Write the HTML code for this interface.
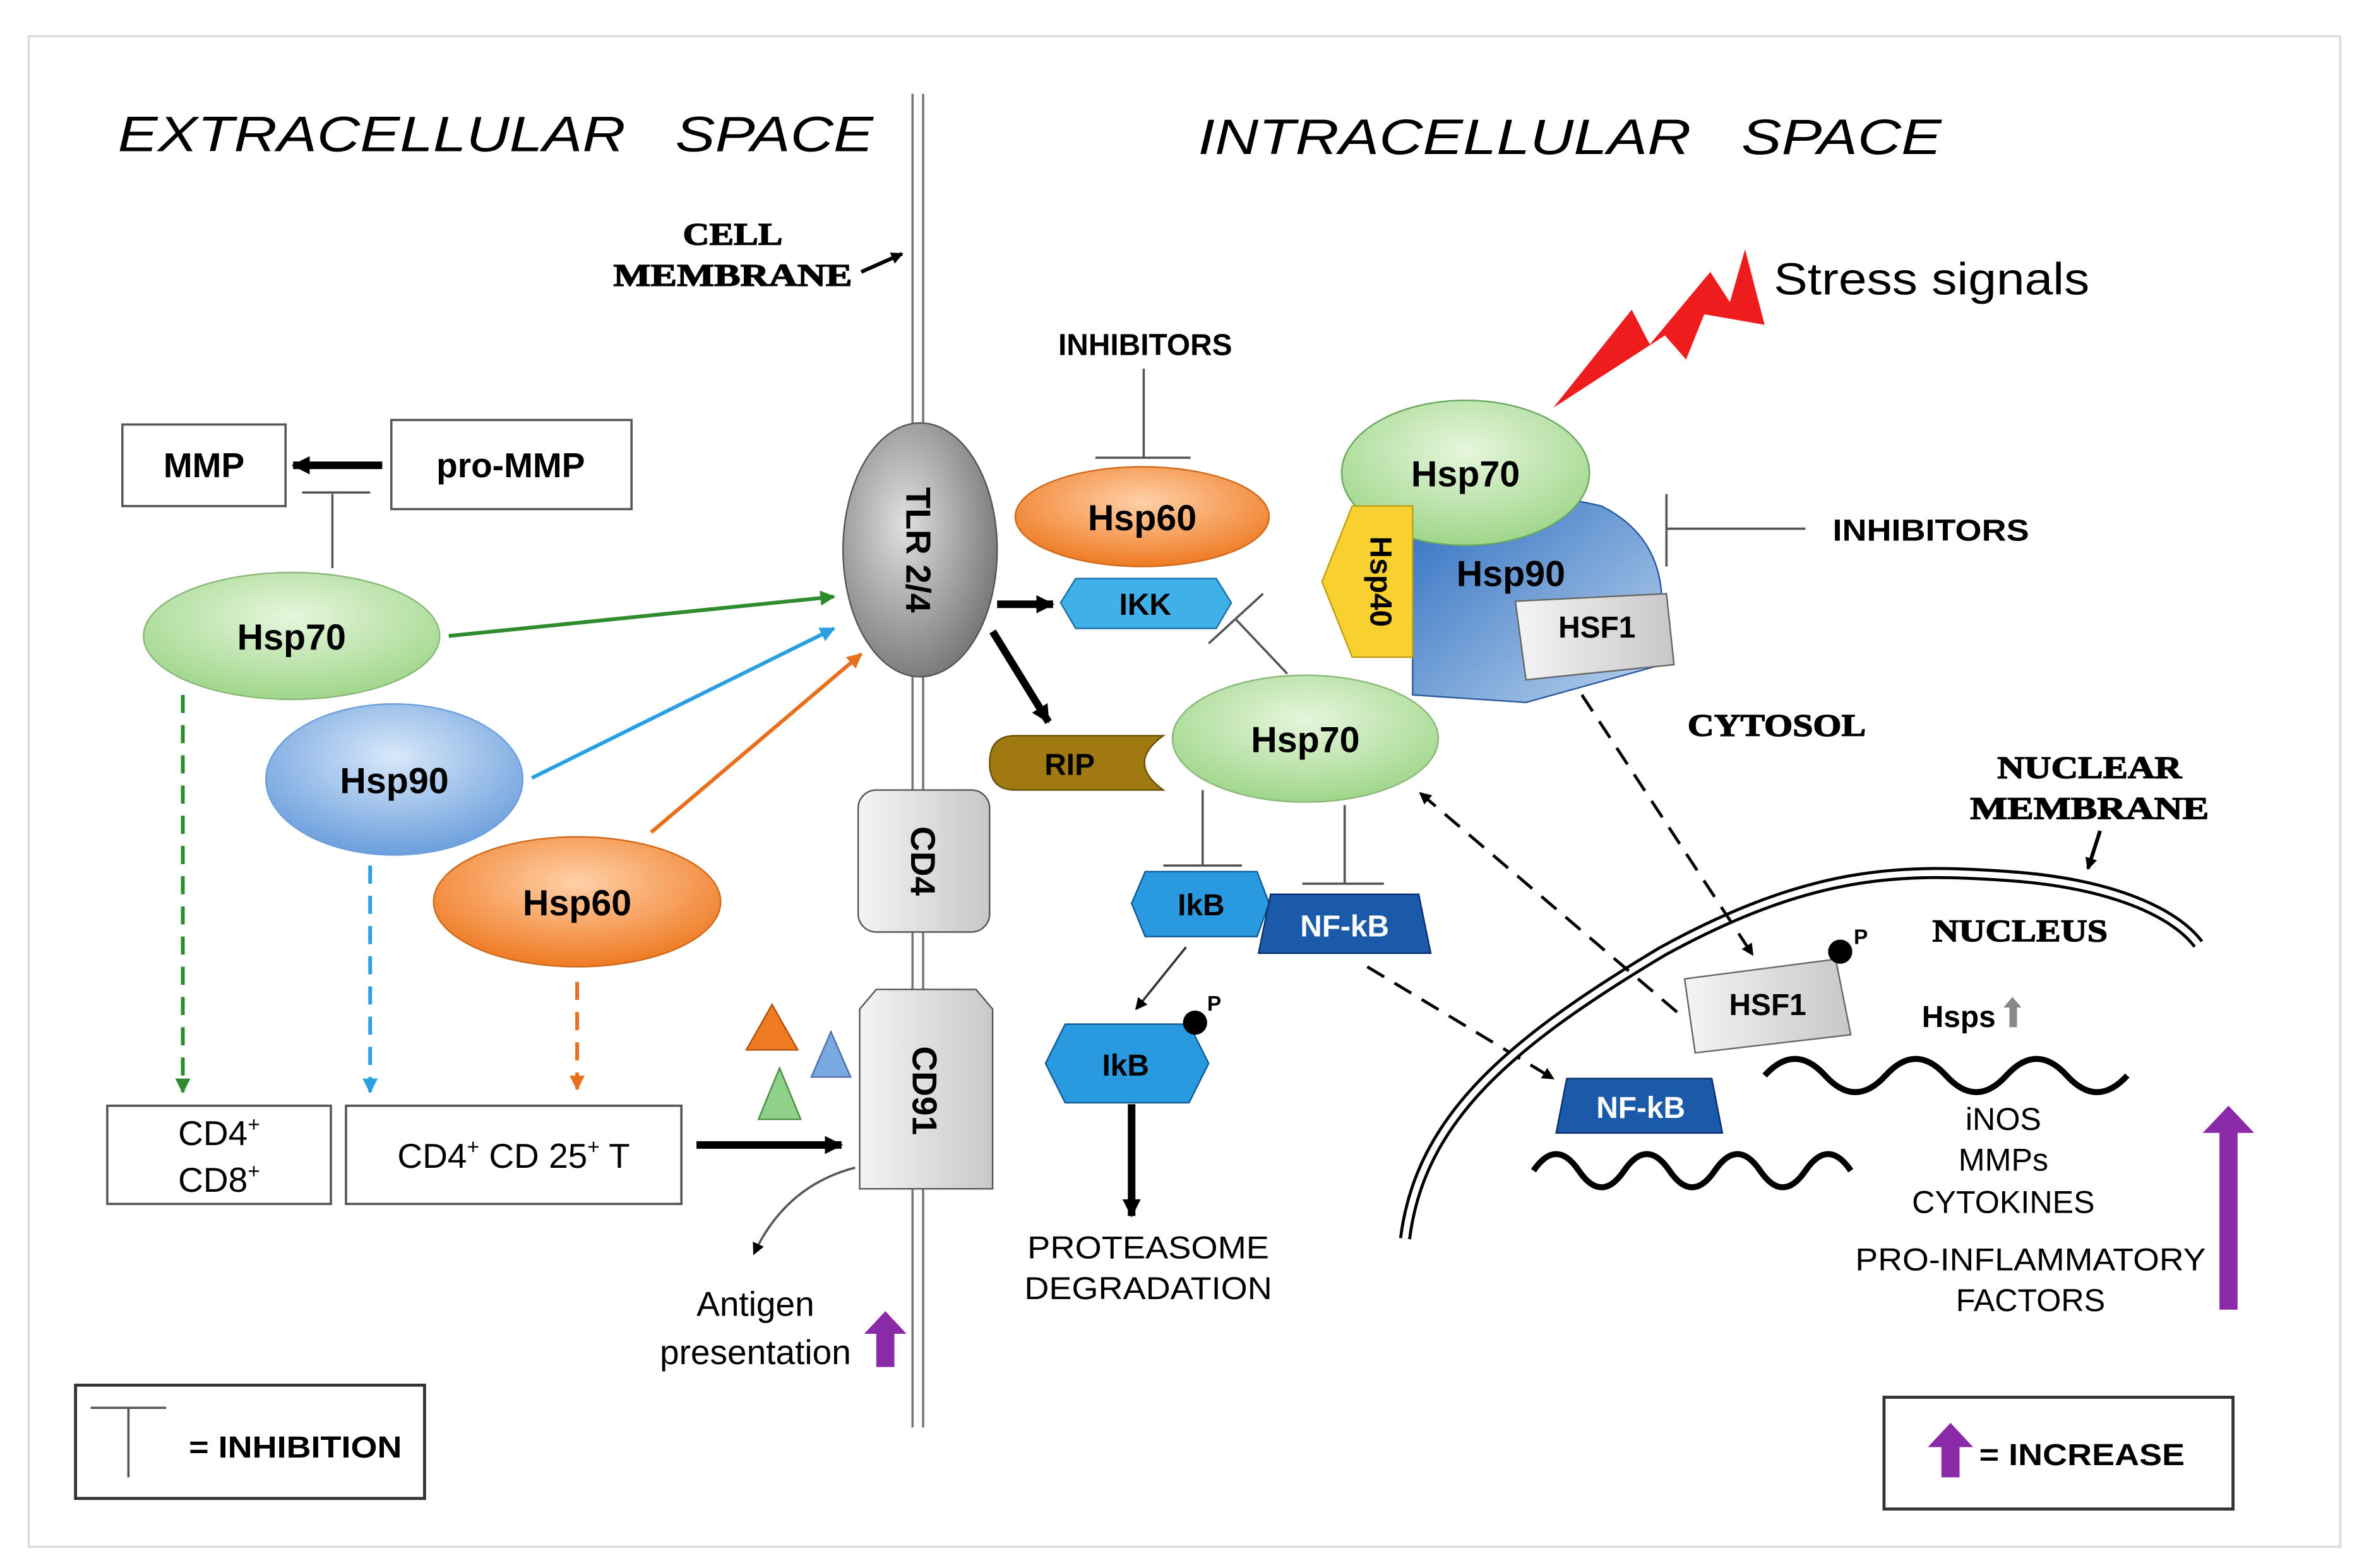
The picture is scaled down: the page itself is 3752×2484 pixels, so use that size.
<!DOCTYPE html>
<html><head><meta charset="utf-8"><style>html,body{margin:0;padding:0;background:#fff}svg{display:block}</style></head><body>
<svg width="3752" height="2484" viewBox="0 0 1568 1038" xmlns="http://www.w3.org/2000/svg" font-family="Liberation Sans, sans-serif">
<defs>
<radialGradient id="gG" cx="50%" cy="35%" r="65%"><stop offset="0" stop-color="#e6f6dc"/><stop offset="1" stop-color="#9fd68a"/></radialGradient>
<radialGradient id="gB" cx="50%" cy="35%" r="65%"><stop offset="0" stop-color="#d8e8fa"/><stop offset="1" stop-color="#6c9fdc"/></radialGradient>
<radialGradient id="gO" cx="50%" cy="35%" r="65%"><stop offset="0" stop-color="#ffd0a8"/><stop offset="1" stop-color="#ef7a22"/></radialGradient>
<radialGradient id="gGr" cx="40%" cy="40%" r="70%"><stop offset="0" stop-color="#e0e0e0"/><stop offset="1" stop-color="#6e6e6e"/></radialGradient>
<linearGradient id="gGray" x1="0" y1="0" x2="1" y2="0"><stop offset="0" stop-color="#f4f4f4"/><stop offset="1" stop-color="#c8c8c8"/></linearGradient>
<linearGradient id="gBig" x1="0" y1="0" x2="1" y2="1"><stop offset="0" stop-color="#2f6fc0"/><stop offset="1" stop-color="#bcd4ee"/></linearGradient>
<marker id="ah" markerWidth="8" markerHeight="8" refX="7" refY="4" orient="auto" markerUnits="userSpaceOnUse"><path d="M0,0L8,4L0,8z" fill="#000"/></marker>
<marker id="ahG" markerWidth="10" markerHeight="10" refX="9" refY="5" orient="auto" markerUnits="userSpaceOnUse"><path d="M0,0L10,5L0,10z" fill="#2e8b2e"/></marker>
<marker id="ahB" markerWidth="10" markerHeight="10" refX="9" refY="5" orient="auto" markerUnits="userSpaceOnUse"><path d="M0,0L10,5L0,10z" fill="#2aa0e0"/></marker>
<marker id="ahO" markerWidth="10" markerHeight="10" refX="9" refY="5" orient="auto" markerUnits="userSpaceOnUse"><path d="M0,0L10,5L0,10z" fill="#e8701c"/></marker>
<marker id="ahK" markerWidth="12" markerHeight="12" refX="11" refY="6" orient="auto" markerUnits="userSpaceOnUse"><path d="M0,0L12,6L0,12z" fill="#000"/></marker>
</defs>
<rect x="0" y="0" width="1568" height="1038" fill="#fff"/>
<rect x="19" y="24" width="1530" height="1000" fill="none" stroke="#ddd" stroke-width="1.5"/>
<text x="78" y="100" font-size="33" font-style="italic" textLength="500" lengthAdjust="spacingAndGlyphs">EXTRACELLULAR&#160;&#160;&#160;SPACE</text>
<text x="793" y="102" font-size="33" font-style="italic" textLength="492" lengthAdjust="spacingAndGlyphs">INTRACELLULAR&#160;&#160;&#160;SPACE</text>
<g stroke="#777" stroke-width="1.5"><line x1="604" y1="62" x2="604" y2="945"/><line x1="611" y1="62" x2="611" y2="945"/></g>
<g font-family="Liberation Serif, serif" font-weight="bold" font-size="21" text-anchor="middle" stroke="#000" stroke-width="0.6"><text x="485" y="162" textLength="66" lengthAdjust="spacingAndGlyphs">CELL</text><text x="485" y="189" textLength="158" lengthAdjust="spacingAndGlyphs">MEMBRANE</text></g>
<line x1="570" y1="180" x2="597" y2="168" stroke="#000" stroke-width="2.5" marker-end="url(#ah)"/>
<rect x="81" y="281" width="108" height="54" fill="#fff" stroke="#555" stroke-width="1.5"/>
<text x="135" y="316" font-size="23" font-weight="bold" text-anchor="middle">MMP</text>
<rect x="259" y="278" width="159" height="59" fill="#fff" stroke="#555" stroke-width="1.5"/>
<text x="338" y="316" font-size="23" font-weight="bold" text-anchor="middle">pro-MMP</text>
<line x1="253" y1="308" x2="194" y2="308" stroke="#000" stroke-width="5" marker-end="url(#ahK)"/>
<g stroke="#555" stroke-width="1.5"><line x1="220" y1="376" x2="220" y2="327"/><line x1="200" y1="326" x2="245" y2="326"/></g>
<ellipse cx="193" cy="421" rx="98" ry="42" fill="url(#gG)" stroke="#8cb87a"/>
<text x="193" y="430" font-size="24" font-weight="bold" text-anchor="middle">Hsp70</text>
<ellipse cx="261" cy="516" rx="85" ry="50" fill="url(#gB)" stroke="#6c9fdc"/>
<text x="261" y="525" font-size="24" font-weight="bold" text-anchor="middle">Hsp90</text>
<ellipse cx="382" cy="597" rx="95" ry="43" fill="url(#gO)" stroke="#d06a1c"/>
<text x="382" y="606" font-size="24" font-weight="bold" text-anchor="middle">Hsp60</text>
<line x1="297" y1="421" x2="552" y2="395" stroke="#2e8b2e" stroke-width="2.5" marker-end="url(#ahG)"/>
<line x1="352" y1="515" x2="552" y2="416" stroke="#2aa0e0" stroke-width="2.5" marker-end="url(#ahB)"/>
<line x1="431" y1="551" x2="570" y2="433" stroke="#e8701c" stroke-width="2.5" marker-end="url(#ahO)"/>
<line x1="121" y1="460" x2="121" y2="723" stroke="#2e8b2e" stroke-width="2.5" stroke-dasharray="12,8" marker-end="url(#ahG)"/>
<line x1="245" y1="573" x2="245" y2="723" stroke="#2aa0e0" stroke-width="2.5" stroke-dasharray="12,8" marker-end="url(#ahB)"/>
<line x1="382" y1="650" x2="382" y2="721" stroke="#e8701c" stroke-width="2.5" stroke-dasharray="12,8" marker-end="url(#ahO)"/>
<rect x="71" y="732" width="148" height="65" fill="#fff" stroke="#555" stroke-width="1.5"/>
<text x="145" y="758" font-size="23" text-anchor="middle">CD4<tspan font-size="14" dy="-9">+</tspan></text>
<text x="145" y="789" font-size="23" text-anchor="middle">CD8<tspan font-size="14" dy="-9">+</tspan></text>
<rect x="229" y="732" width="222" height="65" fill="#fff" stroke="#555" stroke-width="1.5"/>
<text x="340" y="773" font-size="23" text-anchor="middle">CD4<tspan font-size="14" dy="-9">+</tspan><tspan dy="9"> CD 25</tspan><tspan font-size="14" dy="-9">+</tspan><tspan dy="9"> T</tspan></text>
<line x1="461" y1="758" x2="557" y2="758" stroke="#000" stroke-width="5" marker-end="url(#ahK)"/>
<ellipse cx="609" cy="364" rx="51" ry="84" fill="url(#gGr)" stroke="#555"/>
<text transform="translate(600,364) rotate(90)" font-size="23" font-weight="bold" text-anchor="middle">TLR 2/4</text>
<rect x="568" y="523" width="87" height="94" rx="12" fill="url(#gGray)" stroke="#555"/>
<text transform="translate(603,570) rotate(90)" font-size="23" font-weight="bold" text-anchor="middle">CD4</text>
<path d="M569,668 L580,655 L646,655 L657,668 L657,787 L569,787 Z" fill="url(#gGray)" stroke="#555"/>
<text transform="translate(604,722) rotate(90)" font-size="23" font-weight="bold" text-anchor="middle">CD91</text>
<polygon points="511,665 528,695 494,695" fill="#ef7a22" stroke="#b05010"/>
<polygon points="550,683 563,713 537,713" fill="#7aa8e0" stroke="#4a70b0"/>
<polygon points="516,707 530,741 502,741" fill="#8fd08a" stroke="#4a9040"/>
<path d="M566,773 Q520,785 499,830" fill="none" stroke="#555" stroke-width="1.5" marker-end="url(#ah)"/>
<text x="500" y="871" font-size="23" text-anchor="middle">Antigen</text>
<text x="500" y="903" font-size="23" text-anchor="middle">presentation</text>
<polygon points="586,868 600,883 592,883 592,905 580,905 580,883 572,883" fill="#8a2aa8"/>
<rect x="50" y="917" width="231" height="75" fill="#fff" stroke="#333" stroke-width="2"/>
<g stroke="#555" stroke-width="1.5"><line x1="60" y1="932" x2="110" y2="932"/><line x1="85" y1="932" x2="85" y2="978"/></g>
<text x="125" y="965" font-size="20" font-weight="bold" textLength="141" lengthAdjust="spacingAndGlyphs">= INHIBITION</text>
<rect x="1247" y="925" width="231" height="74" fill="#fff" stroke="#333" stroke-width="2"/>
<polygon points="1291,942 1306,958 1297,958 1297,978 1285,978 1285,958 1276,958" fill="#8a2aa8"/>
<text x="1310" y="970" font-size="20" font-weight="bold" textLength="136" lengthAdjust="spacingAndGlyphs">= INCREASE</text>
<text x="758" y="235" font-size="20" font-weight="bold" text-anchor="middle">INHIBITORS</text>
<g stroke="#555" stroke-width="1.5"><line x1="757" y1="244" x2="757" y2="303"/><line x1="725" y1="303" x2="788" y2="303"/></g>
<ellipse cx="756" cy="342" rx="84" ry="33" fill="url(#gO)" stroke="#d06a1c"/>
<text x="756" y="351" font-size="24" font-weight="bold" text-anchor="middle">Hsp60</text>
<polygon points="702,399 712,383 805,383 815,399 805,416 712,416" fill="#3fb0e8" stroke="#1a70a8"/>
<text x="758" y="407" font-size="20" font-weight="bold" text-anchor="middle">IKK</text>
<line x1="660" y1="400" x2="697" y2="400" stroke="#000" stroke-width="5" marker-end="url(#ahK)"/>
<line x1="657" y1="418" x2="694" y2="478" stroke="#000" stroke-width="5" marker-end="url(#ahK)"/>
<path d="M655,505 Q655,487 672,487 L770,487 Q745,505 770,523 L672,523 Q655,523 655,505Z" fill="#a07a10" stroke="#6a5008"/>
<text x="708" y="513" font-size="20" font-weight="bold" text-anchor="middle">RIP</text>
<ellipse cx="864" cy="489" rx="88" ry="42" fill="url(#gG)" stroke="#8cb87a"/>
<text x="864" y="498" font-size="24" font-weight="bold" text-anchor="middle">Hsp70</text>
<g stroke="#555" stroke-width="1.5"><line x1="852" y1="446" x2="818" y2="410"/><line x1="800" y1="426" x2="836" y2="393"/>
<line x1="796" y1="523" x2="796" y2="573"/><line x1="770" y1="573" x2="822" y2="573"/>
<line x1="890" y1="533" x2="890" y2="585"/><line x1="862" y1="585" x2="916" y2="585"/></g>
<polygon points="749,598 758,577 832,577 840,598 832,620 758,620" fill="#2a9ae0" stroke="#105a98"/>
<text x="795" y="606" font-size="20" font-weight="bold" text-anchor="middle">IkB</text>
<polygon points="833,631 841,592 939,592 947,631" fill="#1a5aa8" stroke="#0a3070"/>
<text x="890" y="620" font-size="20" font-weight="bold" text-anchor="middle" fill="#fff">NF-kB</text>
<line x1="785" y1="627" x2="752" y2="668" stroke="#333" stroke-width="1.5" marker-end="url(#ah)"/>
<polygon points="692,704 705,678 787,678 800,704 787,730 705,730" fill="#2a9ae0" stroke="#105a98"/>
<text x="745" y="712" font-size="20" font-weight="bold" text-anchor="middle">IkB</text>
<circle cx="791" cy="677" r="8" fill="#000"/><text x="799" y="669" font-size="14" font-weight="bold">P</text>
<line x1="749" y1="731" x2="749" y2="805" stroke="#000" stroke-width="5" marker-end="url(#ahK)"/>
<text x="760" y="833" font-size="21" text-anchor="middle" textLength="160" lengthAdjust="spacingAndGlyphs">PROTEASOME</text>
<text x="760" y="860" font-size="21" text-anchor="middle" textLength="164" lengthAdjust="spacingAndGlyphs">DEGRADATION</text>
<line x1="905" y1="640" x2="1028" y2="714" stroke="#000" stroke-width="2" stroke-dasharray="13,8" marker-end="url(#ah)"/>
<path d="M930,820 C940,740 1000,690 1100,630 C1200,575 1260,575 1330,580 C1400,585 1440,605 1455,625" fill="none" stroke="#000" stroke-width="8"/>
<path d="M930,820 C940,740 1000,690 1100,630 C1200,575 1260,575 1330,580 C1400,585 1440,605 1455,625" fill="none" stroke="#fff" stroke-width="4"/>
<polygon points="1030,750 1037,714 1133,714 1140,750" fill="#1a5aa8" stroke="#0a3070"/>
<text x="1086" y="740" font-size="20" font-weight="bold" text-anchor="middle" fill="#fff">NF-kB</text>
<path d="M1015,775 q15,-22 30,0 t30,0 t30,0 t30,0 t30,0 t30,0 t30,0" fill="none" stroke="#000" stroke-width="4"/>
<path d="M1168,712 q20,-22 40,0 t40,0 t40,0 t40,0 t40,0 t40,0" fill="none" stroke="#000" stroke-width="4"/>
<polygon points="1028,270 1080,205 1092,228 1132,180 1145,200 1155,165 1168,215 1128,208 1116,238 1102,222" fill="#ee1c1c"/>
<text x="1174" y="195" font-size="30" textLength="209" lengthAdjust="spacingAndGlyphs">Stress signals</text>
<path d="M935,460 L935,350 Q990,318 1060,335 Q1100,355 1100,400 L1100,440 L1010,465 Z" fill="url(#gBig)" stroke="#2a5aa0"/>
<text x="1000" y="388" font-size="24" font-weight="bold" text-anchor="middle">Hsp90</text>
<ellipse cx="970" cy="313" rx="82" ry="48" fill="url(#gG)" stroke="#6aa860"/>
<text x="970" y="322" font-size="24" font-weight="bold" text-anchor="middle">Hsp70</text>
<polygon points="895,335 935,335 935,435 895,435 875,385" fill="#f8d030" stroke="#c0a010"/>
<text transform="translate(907,385) rotate(90)" font-size="20" font-weight="bold" text-anchor="middle">Hsp40</text>
<path d="M1003,398 L1103,393 L1108,440 L1010,450 Z" fill="url(#gGray)" stroke="#666"/>
<text x="1057" y="422" font-size="20" font-weight="bold" text-anchor="middle">HSF1</text>
<g stroke="#555" stroke-width="1.5"><line x1="1103" y1="327" x2="1103" y2="375"/><line x1="1103" y1="350" x2="1195" y2="350"/></g>
<text x="1213" y="358" font-size="20" font-weight="bold" textLength="130" lengthAdjust="spacingAndGlyphs">INHIBITORS</text>
<g font-family="Liberation Serif, serif" font-weight="bold" font-size="21" text-anchor="middle" stroke="#000" stroke-width="0.6"><text x="1176" y="487" textLength="118" lengthAdjust="spacingAndGlyphs">CYTOSOL</text><text x="1383" y="515" textLength="122" lengthAdjust="spacingAndGlyphs">NUCLEAR</text><text x="1383" y="542" textLength="158" lengthAdjust="spacingAndGlyphs">MEMBRANE</text><text x="1337" y="623" textLength="116" lengthAdjust="spacingAndGlyphs">NUCLEUS</text></g>
<line x1="1390" y1="550" x2="1382" y2="575" stroke="#000" stroke-width="2.5" marker-end="url(#ah)"/>
<line x1="1047" y1="460" x2="1160" y2="632" stroke="#000" stroke-width="2" stroke-dasharray="13,8" marker-end="url(#ah)"/>
<line x1="1110" y1="670" x2="940" y2="525" stroke="#000" stroke-width="2" stroke-dasharray="13,8" marker-end="url(#ah)"/>
<path d="M1115,648 L1215,635 L1225,685 L1122,697 Z" fill="url(#gGray)" stroke="#666"/>
<text x="1170" y="672" font-size="20" font-weight="bold" text-anchor="middle">HSF1</text>
<circle cx="1218" cy="630" r="8" fill="#000"/><text x="1227" y="625" font-size="14" font-weight="bold">P</text>
<text x="1272" y="680" font-size="20" font-weight="bold">Hsps</text>
<polygon points="1332,660 1338,667 1335,667 1335,680 1330,680 1330,667 1326,667" fill="#888"/>
<g font-size="21" text-anchor="middle"><text x="1326" y="748">iNOS</text><text x="1326" y="775">MMPs</text><text x="1326" y="803">CYTOKINES</text><text x="1344" y="841" textLength="232" lengthAdjust="spacingAndGlyphs">PRO-INFLAMMATORY</text><text x="1344" y="868">FACTORS</text></g>
<polygon points="1475,732 1492,750 1481,750 1481,867 1469,867 1469,750 1458,750" fill="#8a2aa8"/>
</svg>
</body></html>
